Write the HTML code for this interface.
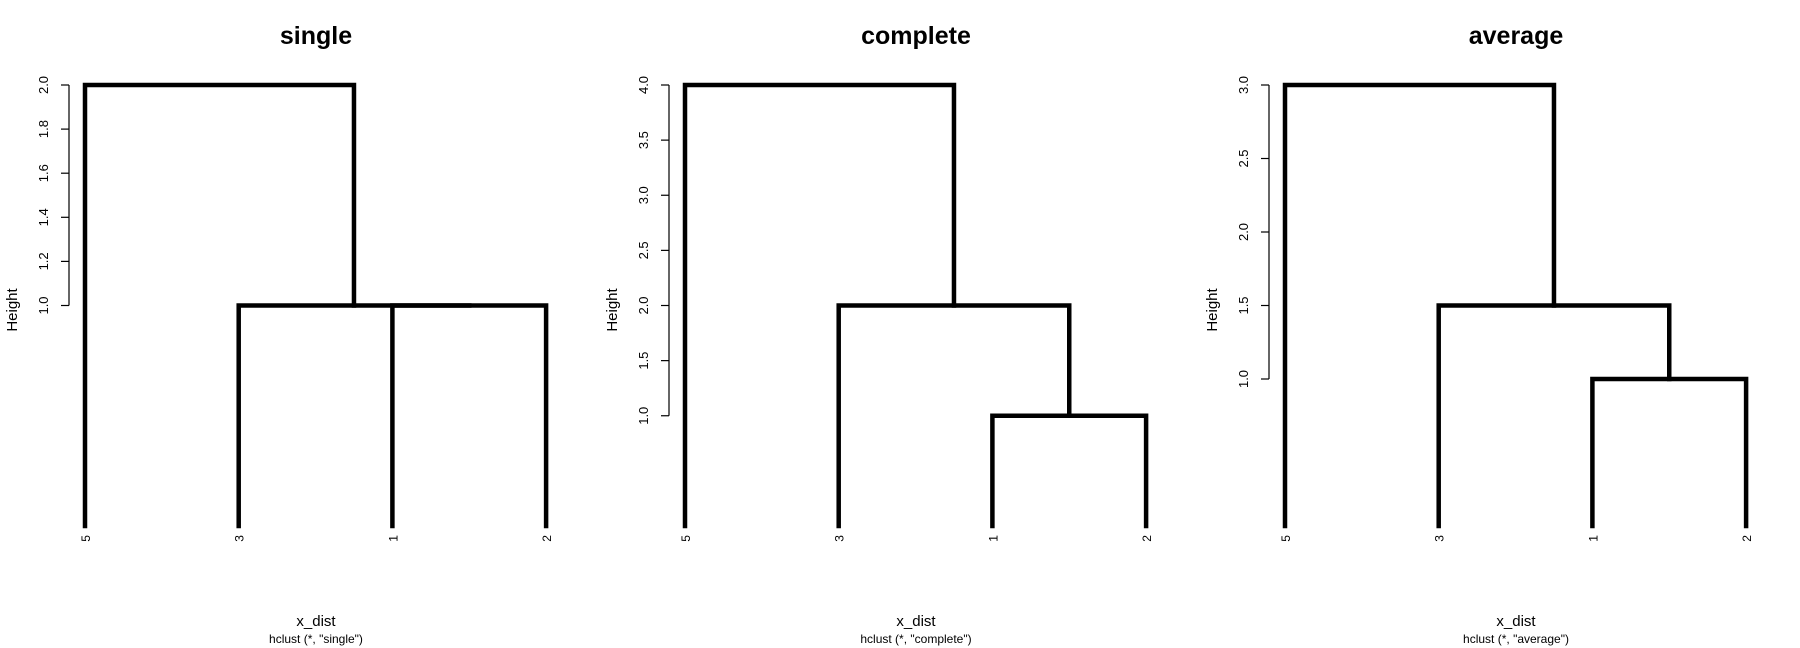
<!DOCTYPE html>
<html><head><meta charset="utf-8"><style>
html,body{margin:0;padding:0;background:#fff}
svg{display:block;font-family:"Liberation Sans",Arial,sans-serif}
</style></head><body>
<svg id="c" width="1800" height="648" viewBox="0 0 1800 648"></svg>
<script>
const panelTitles = ["single","complete","average"];
const leafLabels = ["5","3","1","2"];
const singleHeights = [1, 1, 2];
const completeHeights = [1, 2, 4];
const averageHeights = [1, 1.5, 3];
const singleTicks = [1.0,1.2,1.4,1.6,1.8,2.0];
const completeTicks = [1.0,1.5,2.0,2.5,3.0,3.5,4.0];
const averageTicks = [1.0,1.5,2.0,2.5,3.0];
const allHeights=[singleHeights,completeHeights,averageHeights];
const allTicks=[singleTicks,completeTicks,averageTicks];
const NS="http://www.w3.org/2000/svg";
const svg=document.getElementById('c');
function mk(tag,attrs,parent,text){const e=document.createElementNS(NS,tag);for(const k in attrs)e.setAttribute(k,attrs[k]);if(text!==undefined)e.textContent=text;parent.appendChild(e);return e;}
panelTitles.forEach((t,p)=>{
  const ox=p*600;
  const g=mk('g',{},svg);
  
  
  const h=allHeights[p], ticks=allTicks[p];
  const ymax=Math.max(...h);
  const y0=526, y1=85;
  const Y=v=>y0-(v/ymax)*(y0-y1);
  const X=i=>ox+85+i*153.7;
  const title=mk('text',{x:ox+316,y:44,'text-anchor':'middle','font-size':25,'font-weight':'bold'},g,t);
  
  
  const ax=mk('line',{x1:ox+69,x2:ox+69,y1:Y(ticks[0]),y2:Y(ticks[ticks.length-1]),stroke:'#000','stroke-width':1.2},g);
  
  
  ticks.forEach(v=>{
    const y=Y(v);
    mk('line',{x1:ox+61,x2:ox+69,y1:y,y2:y,stroke:'#000','stroke-width':1.2},g);
    const tl=mk('text',{x:0,y:0,transform:`translate(${ox+48},${y}) rotate(-90)`,'text-anchor':'middle','font-size':13},g,v.toFixed(1));
    
    
  });
  const yl=mk('text',{transform:`translate(${ox+17},310) rotate(-90)`,'text-anchor':'middle','font-size':15},g,'Height');
  
  
  const xl=mk('text',{x:ox+316,y:626,'text-anchor':'middle','font-size':15},g,'x_dist');
  
  
  const sub=mk('text',{x:ox+316,y:643,'text-anchor':'middle','font-size':12},g,'hclust (*, "'+t+'")');
  
  
  leafLabels.forEach((l,i)=>{
    const lt=mk('text',{transform:`translate(${X(i)+5},535) rotate(-90)`,'text-anchor':'end','font-size':12},g,l);
    
    
  });
  const st={stroke:'#000','stroke-width':4.5,fill:'none','stroke-linejoin':'miter','stroke-linecap':'square'};
  function seg(x1,ya,x2,yb,hgt,name){
    const e=mk('path',Object.assign({d:`M${x1},${ya}V${hgt}H${x2}V${yb}`},st),g);
    
    
  }
  const c1=(X(2)+X(3))/2;
  seg(X(2),y0,X(3),y0,Y(h[0]),'merge-1-2');
  const c2=(X(1)+c1)/2;
  seg(X(1),y0,c1,Y(h[0]),Y(h[1]),'merge-3');
  seg(X(0),y0,c2,Y(h[1]),Y(h[2]),'merge-5');
});
</script>
</body></html>
